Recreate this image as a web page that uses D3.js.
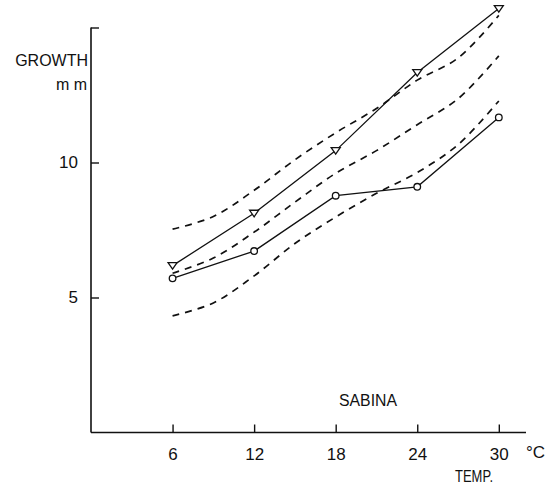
<!DOCTYPE html>
<html>
<head>
<meta charset="utf-8">
<script src="https://cdn.jsdelivr.net/npm/d3@7"></script>
<style>
  html, body { margin: 0; padding: 0; background: #fff; }
  svg { display: block; }
  text { font-family: "Liberation Sans", Arial, sans-serif; fill: #111; }
</style>
</head>
<body>
<svg id="chart" width="551" height="488"></svg>
<script>
// ---- data ----
const temps = [6, 12, 18, 24, 30];
const growthTriangle = [6.18, 8.12, 10.44, 13.33, 15.7];
const growthCircle = [5.71, 6.72, 8.77, 9.10, 11.67];

const curveTemps = [6, 9, 12, 15, 18, 21, 24, 27, 30];
const dashedUpper = [7.53, 8.0, 8.97, 10.1, 11.1, 12.0, 13.05, 13.87, 15.45];
const dashedMiddle = [5.9, 6.46, 7.42, 8.53, 9.6, 10.44, 11.4, 12.36, 13.95];
const dashedLower = [4.32, 4.8, 5.8, 7.0, 7.98, 8.86, 9.63, 10.66, 12.28];

const xTicks = [6, 12, 18, 24, 30];
const yTicks = [5, 10, 15];
const yTickLabels = ["5", "10", ""];

// ---- layout ----
const svg = d3.select("#chart");
const x = d3.scaleLinear().domain([0, 32]).range([91, 526]);
const y = d3.scaleLinear().domain([0, 15]).range([432.5, 27.5]);

const ink = "#111";
const font = "Liberation Sans, Arial, sans-serif";

// axes
const xAxis = d3.axisBottom(x).tickValues(xTicks).tickSizeInner(-8).tickSizeOuter(0).tickPadding(15);
const gx = svg.append("g").attr("transform", `translate(0,${y(0)})`).call(xAxis);
gx.select(".domain").attr("stroke", ink).attr("stroke-width", 1.6)
  .attr("d", `M${x(0)},0H${x(32)}`);
gx.selectAll(".tick line").attr("stroke", ink).attr("stroke-width", 1.4);
gx.selectAll(".tick text").attr("font-size", 17).attr("fill", ink).attr("font-family", font);

const yAxis = d3.axisLeft(y).tickValues(yTicks).tickFormat((d, i) => yTickLabels[i])
  .tickSizeInner(-8).tickSizeOuter(0).tickPadding(13);
const gy = svg.append("g").attr("transform", `translate(${x(0)},0)`).call(yAxis);
gy.select(".domain").attr("stroke", ink).attr("stroke-width", 1.6)
  .attr("d", `M0,${y(15)}V${y(0)}`);
gy.selectAll(".tick line").attr("stroke", ink).attr("stroke-width", 1.4);
gy.selectAll(".tick text").attr("font-size", 17).attr("fill", ink).attr("font-family", font);

// axis titles
svg.append("text").attr("x", 88).attr("y", 66).attr("text-anchor", "end")
  .attr("font-size", 16).text("GROWTH");
svg.append("text").attr("x", 87).attr("y", 90).attr("text-anchor", "end")
  .attr("font-size", 16).text("m m");
svg.append("text").attr("x", 526).attr("y", 458).attr("font-size", 17).text("°C");
svg.append("text").attr("x", 455).attr("y", 482).attr("font-size", 16)
  .attr("textLength", 38).attr("lengthAdjust", "spacingAndGlyphs").text("TEMP.");
svg.append("text").attr("x", 339).attr("y", 406).attr("font-size", 16)
  .attr("textLength", 58).attr("lengthAdjust", "spacingAndGlyphs").text("SABINA");

// dashed curves
const curveLine = d3.line()
  .x((d, i) => x(curveTemps[i]))
  .y(d => y(d))
  .curve(d3.curveCatmullRom.alpha(0.5));
[dashedUpper, dashedMiddle, dashedLower].forEach(vals => {
  svg.append("path").attr("d", curveLine(vals))
    .attr("fill", "none").attr("stroke", ink).attr("stroke-width", 1.7)
    .attr("stroke-dasharray", "7,6");
});

// solid series
const seriesLine = d3.line().x((d, i) => x(temps[i])).y(d => y(d));
[growthTriangle, growthCircle].forEach(vals => {
  svg.append("path").attr("d", seriesLine(vals))
    .attr("fill", "none").attr("stroke", ink).attr("stroke-width", 1.3);
});

// markers
svg.append("g").selectAll("circle").data(growthCircle).join("circle")
  .attr("cx", (d, i) => x(temps[i])).attr("cy", d => y(d)).attr("r", 3.3)
  .attr("fill", "#fff").attr("stroke", ink).attr("stroke-width", 1.3);

svg.append("g").selectAll("path").data(growthTriangle).join("path")
  .attr("d", (d, i) => {
    const cx = x(temps[i]), cy = y(d);
    return `M${cx - 4.5},${cy - 3}L${cx + 4.5},${cy - 3}L${cx},${cy + 3.5}Z`;
  })
  .attr("fill", "#fff").attr("stroke", ink).attr("stroke-width", 1.3);
</script>
</body>
</html>
